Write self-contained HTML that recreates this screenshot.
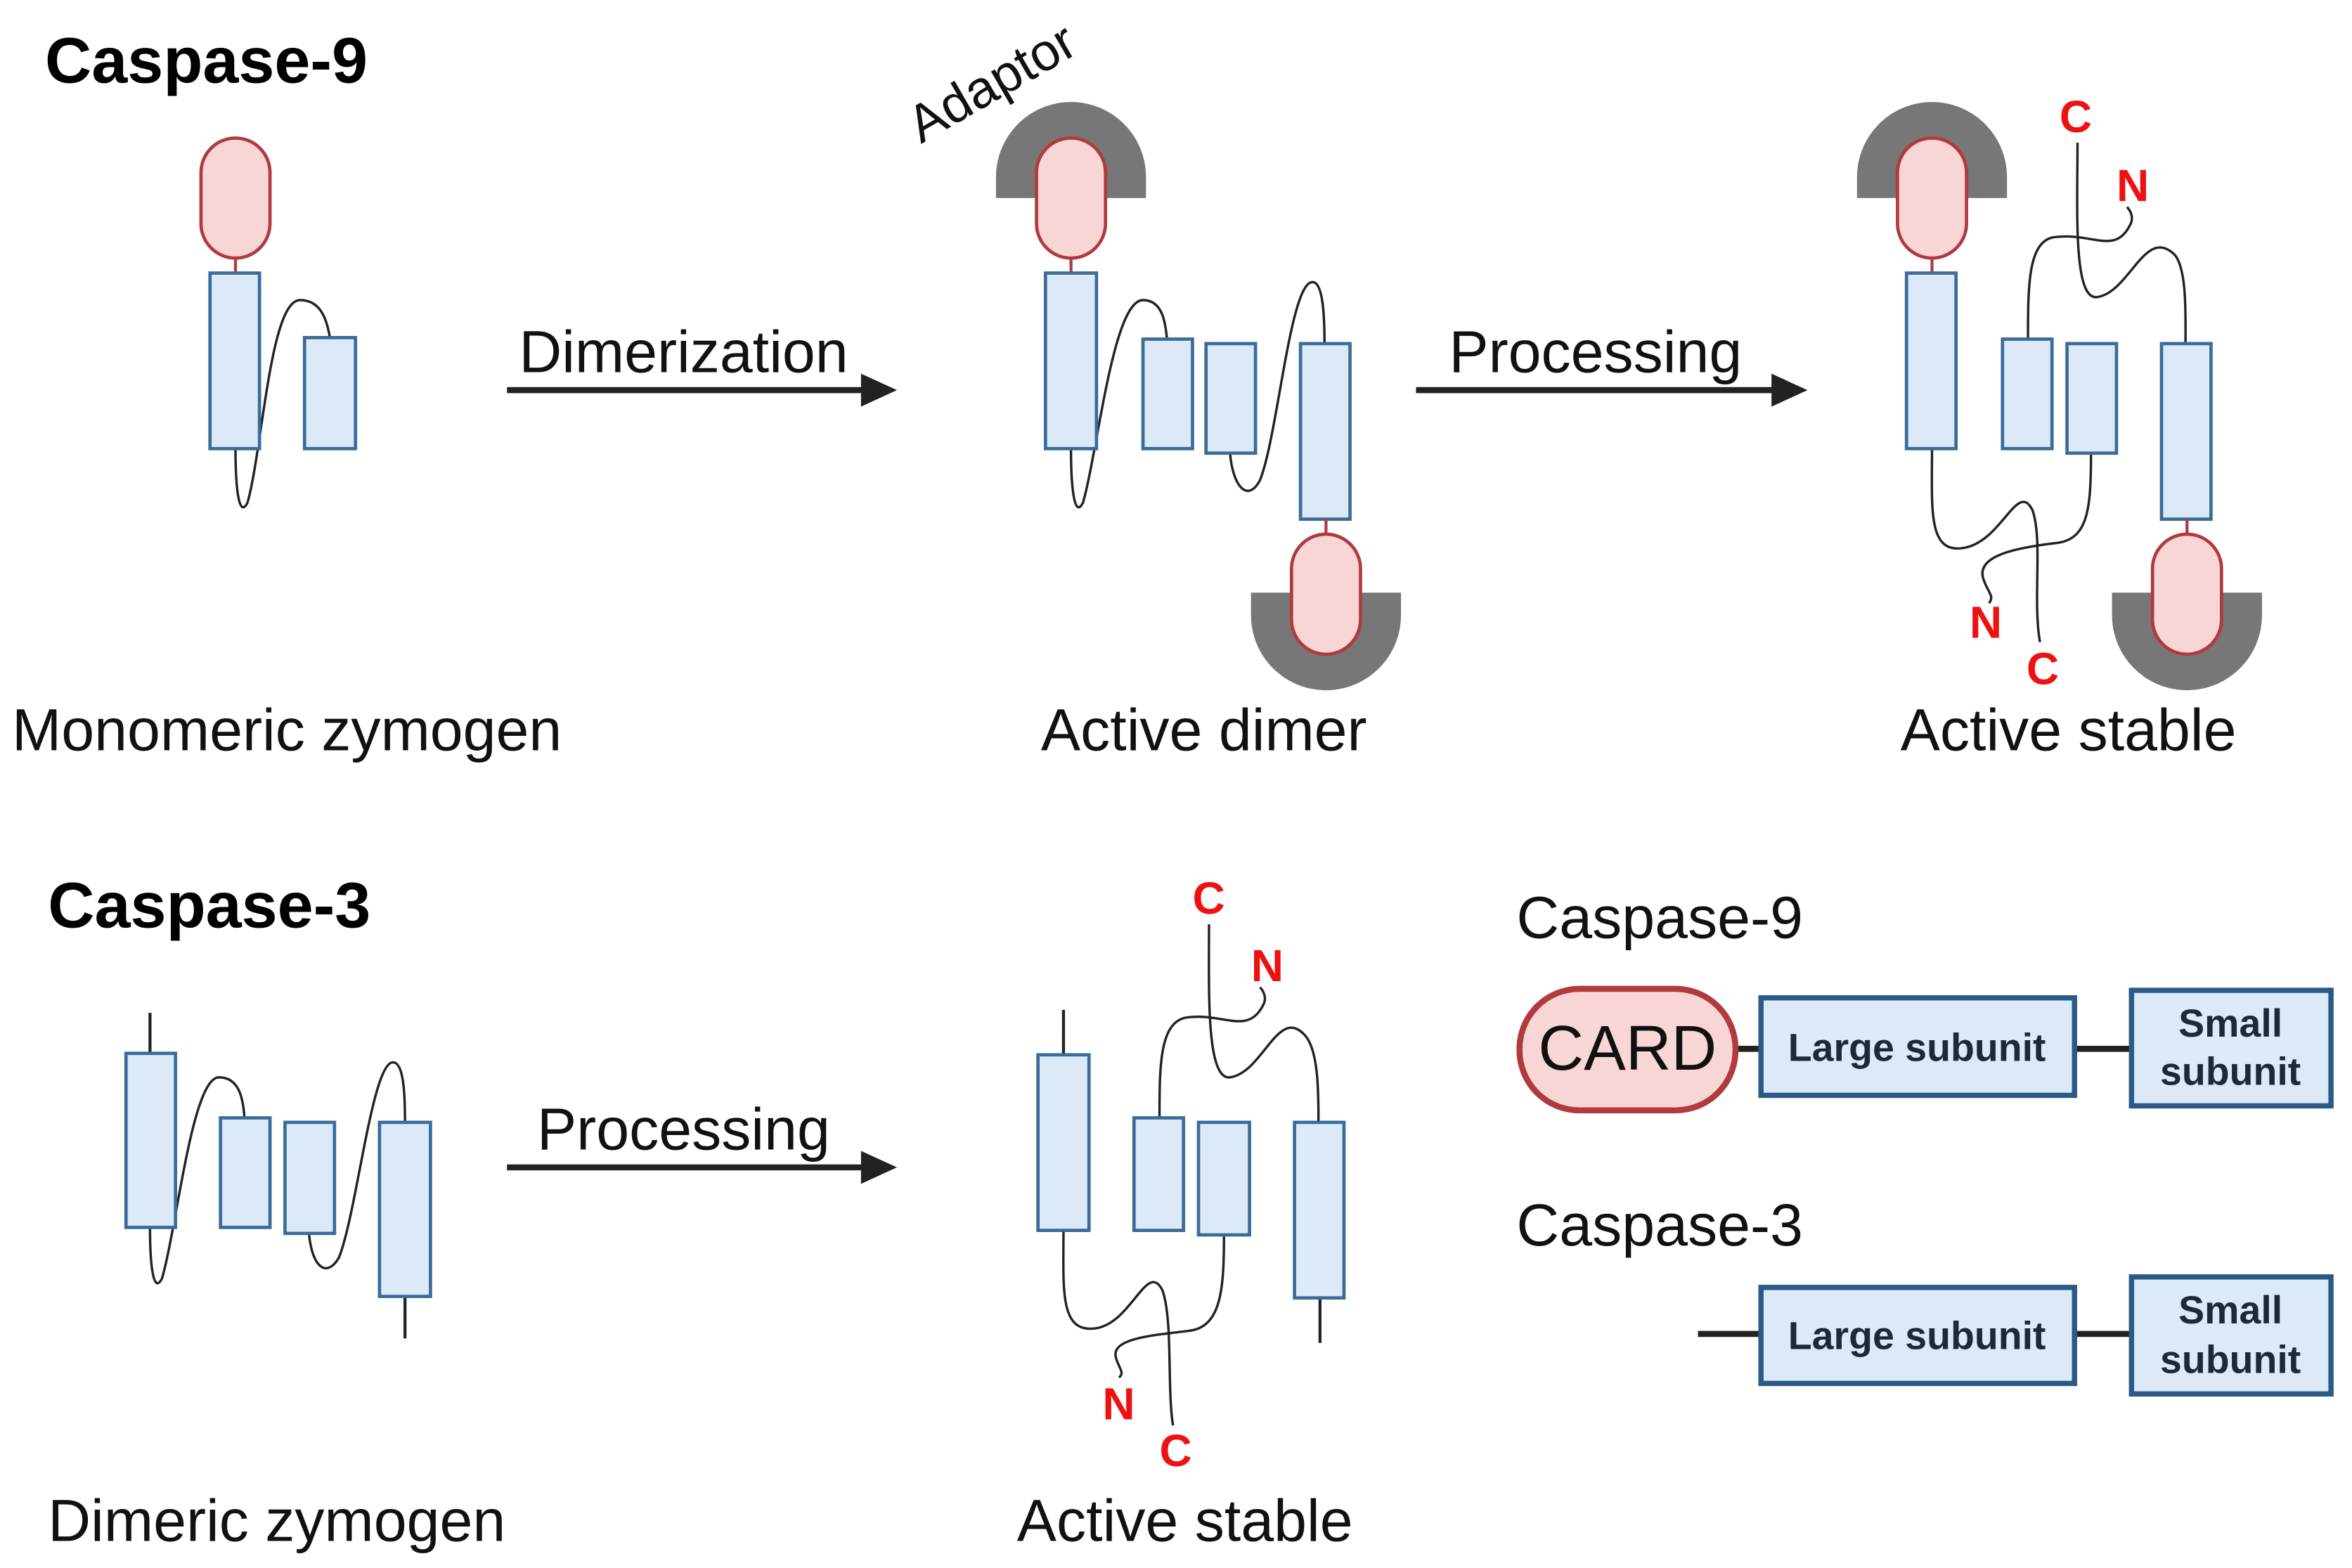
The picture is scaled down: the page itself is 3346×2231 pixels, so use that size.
<!DOCTYPE html>
<html><head><meta charset="utf-8"><style>
html,body{margin:0;padding:0;background:#fff;}
svg{display:block;}
text{font-family:"Liberation Sans",sans-serif;}
</style></head><body>
<svg width="3346" height="2231" viewBox="0 0 1568 1045" preserveAspectRatio="none" xmlns="http://www.w3.org/2000/svg">
<defs>
<style>
.b{fill:#dce9f7;stroke:#3a6c9a;stroke-width:2.2}
.p{fill:#f9d6d6;stroke:#b03a3e;stroke-width:2.2}
.l{fill:none;stroke:#222;stroke-width:1.6}
.r{fill:#ee1111;font-weight:bold;font-size:30px}
.t{font-size:39.5px;fill:#111}
.h{font-size:43px;font-weight:bold;fill:#000}
.bb{fill:#dce9f7;stroke:#2b5a86;stroke-width:3.5}
.lt{font-size:26px;font-weight:bold;fill:#1a2a3a}
</style>
</defs>
<rect width="1568" height="1045" fill="#fff"/>

<text class="h" x="30" y="55">Caspase-9</text>

<!-- Monomeric zymogen -->
<line x1="157" y1="172" x2="157" y2="182" stroke="#b03a3e" stroke-width="2"/>
<rect class="p" x="134" y="92" width="46" height="80" rx="23"/>
<path class="l" d="M157,299 C157,330 160,345 165,335 C175,300 180,200 200,200 C215,200 218,215 220,225"/>
<rect class="b" x="140" y="182" width="33" height="117"/>
<rect class="b" x="203" y="225" width="34" height="74"/>
<text class="t" x="8" y="500">Monomeric zymogen</text>

<line x1="338" y1="260" x2="578" y2="260" stroke="#222" stroke-width="4"/>
<polygon points="574,249 598,260 574,271" fill="#222"/>
<text class="t" x="346" y="248">Dimerization</text>

<!-- Active dimer -->
<path d="M664,132 L664,118 A50,50 0 0 1 764,118 L764,132 Z" fill="#777"/>
<text x="614" y="96" font-size="35" fill="#111" transform="rotate(-30 614 96)">Adaptor</text>
<rect class="p" x="691" y="92" width="46" height="80" rx="23"/>
<line x1="714" y1="172" x2="714" y2="182" stroke="#b03a3e" stroke-width="2"/>
<path class="l" d="M714,299 C714,330 717,345 722,335 C732,300 742,200 762,200 C775,200 777,215 778,226"/>
<path class="l" d="M820,302 C822,325 832,335 840,320 C852,290 860,188 875,188 C882,188 883,210 883,229"/>
<rect class="b" x="697" y="182" width="34" height="117"/>
<rect class="b" x="762" y="226" width="33" height="73"/>
<rect class="b" x="804" y="229" width="33" height="73"/>
<rect class="b" x="867" y="229" width="33" height="117"/>
<line x1="884" y1="346" x2="884" y2="356" stroke="#b03a3e" stroke-width="2"/>
<path d="M834,395 L834,410 A50,50 0 0 0 934,410 L934,395 Z" fill="#777"/>
<rect class="p" x="861" y="356" width="46" height="80" rx="23"/>
<text class="t" x="694" y="500">Active dimer</text>

<line x1="944" y1="260" x2="1185" y2="260" stroke="#222" stroke-width="4"/>
<polygon points="1181,249 1205,260 1181,271" fill="#222"/>
<text class="t" x="966" y="248">Processing</text>

<!-- Active stable (caspase-9) -->
<path d="M1238,132 L1238,118 A50,50 0 0 1 1338,118 L1338,132 Z" fill="#777"/>
<rect class="p" x="1265" y="92" width="46" height="80" rx="23"/>
<line x1="1288" y1="172" x2="1288" y2="182" stroke="#b03a3e" stroke-width="2"/>
<path class="l" d="M1288,299 C1288,340 1285,370 1310,365 C1335,360 1345,320 1355,340 C1362,360 1355,400 1360,428"/>
<path class="l" d="M1394,302 C1394,340 1392,360 1370,362 C1345,365 1318,370 1322,385 C1325,395 1330,397 1326,402"/>
<path class="l" d="M1352,226 C1352,190 1352,160 1370,158 C1395,155 1410,170 1420,150 C1423,145 1420,140 1418,138"/>
<path class="l" d="M1385,95 C1385,140 1382,200 1398,198 C1420,195 1430,150 1450,170 C1458,180 1457,210 1457,229"/>
<rect class="b" x="1271" y="182" width="33" height="117"/>
<rect class="b" x="1335" y="226" width="33" height="73"/>
<rect class="b" x="1378" y="229" width="33" height="73"/>
<rect class="b" x="1441" y="229" width="33" height="117"/>
<line x1="1458" y1="346" x2="1458" y2="356" stroke="#b03a3e" stroke-width="2"/>
<path d="M1408,395 L1408,410 A50,50 0 0 0 1508,410 L1508,395 Z" fill="#777"/>
<rect class="p" x="1435" y="356" width="46" height="80" rx="23"/>
<text class="r" x="1373" y="88">C</text>
<text class="r" x="1411" y="134">N</text>
<text class="r" x="1313" y="425">N</text>
<text class="r" x="1351" y="456">C</text>
<text class="t" x="1267" y="500">Active stable</text>

<text class="h" x="32" y="618">Caspase-3</text>

<!-- Dimeric zymogen -->
<line x1="100" y1="675" x2="100" y2="702" stroke="#222" stroke-width="2"/>
<line x1="270" y1="864" x2="270" y2="892" stroke="#222" stroke-width="2"/>
<path class="l" d="M100,818 C100,848 103,862 108,852 C118,818 128,718 146,718 C160,718 162,733 163,745"/>
<path class="l" d="M206,822 C208,845 218,852 226,838 C238,808 248,708 262,708 C269,708 270,728 270,748"/>
<rect class="b" x="84" y="702" width="33" height="116"/>
<rect class="b" x="147" y="745" width="33" height="73"/>
<rect class="b" x="190" y="748" width="33" height="74"/>
<rect class="b" x="253" y="748" width="34" height="116"/>
<text class="t" x="32" y="1027">Dimeric zymogen</text>

<line x1="338" y1="778" x2="578" y2="778" stroke="#222" stroke-width="4"/>
<polygon points="574,767 598,778 574,789" fill="#222"/>
<text class="t" x="358" y="766">Processing</text>

<!-- Active stable (caspase-3) -->
<line x1="709" y1="673" x2="709" y2="703" stroke="#222" stroke-width="2"/>
<line x1="880" y1="865" x2="880" y2="895" stroke="#222" stroke-width="2"/>
<path class="l" d="M709,820 C709,860 706,890 732,885 C755,880 765,840 775,860 C782,880 778,925 782,950"/>
<path class="l" d="M816,823 C816,860 814,885 792,887 C768,890 740,892 744,905 C746,912 750,915 746,918"/>
<path class="l" d="M773,745 C773,710 773,680 792,678 C815,675 832,690 842,670 C845,665 842,660 840,658"/>
<path class="l" d="M806,616 C806,660 804,720 820,718 C842,715 852,670 870,690 C879,700 879,728 879,748"/>
<rect class="b" x="692" y="703" width="34" height="117"/>
<rect class="b" x="756" y="745" width="33" height="75"/>
<rect class="b" x="799" y="748" width="34" height="75"/>
<rect class="b" x="863" y="748" width="33" height="117"/>
<text class="r" x="795" y="609">C</text>
<text class="r" x="834" y="654">N</text>
<text class="r" x="735" y="946">N</text>
<text class="r" x="773" y="977">C</text>
<text class="t" x="678" y="1027">Active stable</text>

<!-- Legend -->
<text class="t" x="1011" y="625">Caspase-9</text>
<line x1="1157" y1="699" x2="1174" y2="699" stroke="#222" stroke-width="4"/>
<line x1="1383" y1="699" x2="1421" y2="699" stroke="#222" stroke-width="4"/>
<rect x="1013" y="659" width="144" height="81" rx="40" fill="#f9d6d6" stroke="#b03a3e" stroke-width="4"/>
<text x="1085" y="713" font-size="42" text-anchor="middle" fill="#111">CARD</text>
<rect class="bb" x="1174" y="665" width="209" height="65"/>
<text class="lt" x="1278" y="707" text-anchor="middle">Large subunit</text>
<rect class="bb" x="1421" y="660" width="133" height="77"/>
<text class="lt" x="1487" y="691" text-anchor="middle">Small</text>
<text class="lt" x="1487" y="723" text-anchor="middle">subunit</text>

<text class="t" x="1011" y="830">Caspase-3</text>
<line x1="1132" y1="889" x2="1174" y2="889" stroke="#222" stroke-width="4"/>
<line x1="1383" y1="889" x2="1421" y2="889" stroke="#222" stroke-width="4"/>
<rect class="bb" x="1174" y="858" width="209" height="64"/>
<text class="lt" x="1278" y="899" text-anchor="middle">Large subunit</text>
<rect class="bb" x="1421" y="851" width="133" height="78"/>
<text class="lt" x="1487" y="882" text-anchor="middle">Small</text>
<text class="lt" x="1487" y="915" text-anchor="middle">subunit</text>
</svg>
</body></html>
